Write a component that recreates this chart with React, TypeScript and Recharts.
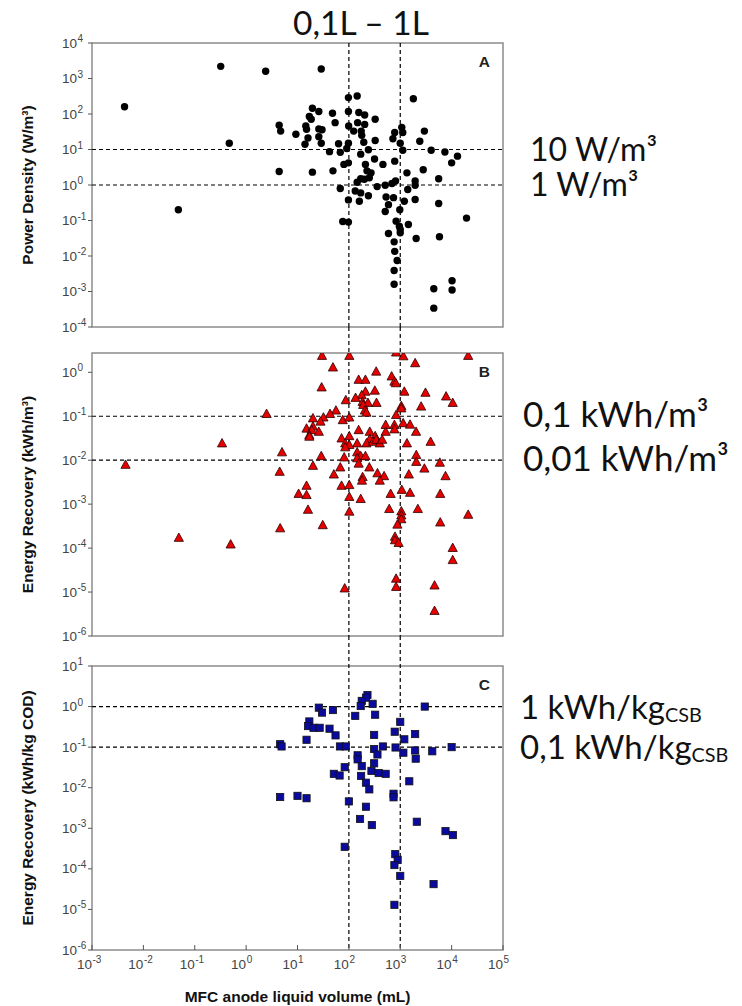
import React from "react";
import { ScatterChart, Scatter, XAxis, YAxis, ReferenceLine, ReferenceArea } from "recharts";

// MFC anode liquid volume (mL), log axis shared by all three panels
const volumeTicks = [1e-3, 1e-2, 1e-1, 1, 10, 100, 1000, 1e4, 1e5];
const rangeLines = [100, 1000]; // 0,1 L and 1 L

// A: power density (W/m3)
const powerTicks = [1e-4, 1e-3, 1e-2, 1e-1, 1, 10, 100, 1000, 1e4];
const powerVolume = [
  0.0043, 0.32, 2.4, 29, 0.47, 1800, 98, 145, 19.5, 26, 48, 98, 156, 203, 325, 54, 148, 99, 203, 17,
  18.5, 14.5, 15, 4.4, 4.7, 9.3, 26, 30, 16, 26, 14, 29, 124, 174, 178, 780, 1120, 1070, 2950, 720,
  2400, 325, 195, 98, 63, 1000, 42, 68, 91, 240, 170, 1120, 4000, 7400, 13000, 10000, 316, 460, 780, 80,
  98, 210, 4.4, 19.5, 49, 225, 270, 250, 200, 145, 170, 355, 510, 690, 810, 68, 133, 170, 240, 98,
  160, 530, 740, 590, 510, 980, 1200, 1400, 1350, 1950, 1950, 2800, 5600, 1950, 5600, 76, 98, 830, 960, 1000,
  1000, 1440, 590, 2040, 5800, 19500, 0.048, 760, 780, 870, 760, 760, 4500, 10200, 10200, 4500,
];
const powerDensity = [
  160, 2200, 1600, 1850, 15, 270, 290, 320, 145, 118, 105, 118, 110, 94, 71, 57, 57, 46, 51, 85,
  71, 46, 37, 48, 33, 27, 38, 36, 21, 23, 14, 15, 33, 33, 25, 30, 30, 42, 33, 20,
  17, 18, 16, 15, 14.5, 15, 8.7, 8.3, 10.7, 9.8, 7.4, 9.5, 9.5, 8.5, 6.5, 4.2, 5.4, 3.8, 4.7, 3.8,
  4.2, 3.8, 2.4, 2.3, 2.5, 2.5, 2.2, 1.6, 1.45, 1.2, 1.5, 0.9, 0.98, 1.1, 1.3, 0.8, 0.68, 0.6, 0.5, 0.38,
  0.35, 0.46, 0.44, 0.28, 0.18, 0.2, 0.35, 0.75, 2.2, 1.3, 0.98, 2.7, 1.5, 0.39, 0.3, 0.094, 0.09, 0.096, 0.069, 0.056,
  0.045, 0.077, 0.043, 0.031, 0.035, 0.117, 0.2, 0.025, 0.0135, 0.0075, 0.0039, 0.0016, 0.0012, 0.002, 0.0011, 0.00034,
];

// B: energy recovery (kWh/m3)
const energyTicks = [1e-6, 1e-5, 1e-4, 1e-3, 1e-2, 1e-1, 1];
const energyVolume = [
  30, 102, 830, 1150, 21000, 1950, 49, 340, 155, 210, 680, 770, 820, 29.5, 210, 320, 1200, 3100, 7800, 10500,
  178, 135, 87, 185, 235, 345, 190, 1050, 1050, 2550, 205, 220, 56, 43, 2.5, 32, 20, 76, 102, 830,
  28, 15, 20, 19, 26, 17, 17, 155, 72, 102, 255, 325, 520, 770, 770, 520, 1140, 1550, 2030, 255,
  220, 295, 340, 145, 85, 102, 85, 400, 445, 1350, 3900, 0.34, 5, 145, 170, 210, 145, 29, 81, 155,
  2050, 2050, 5900, 0.0045, 20, 250, 68, 2950, 4.5, 360, 51, 485, 185, 1470, 7600, 400, 180, 15, 72, 102,
  10.5, 15, 650, 1070, 1550, 6000, 102, 170, 16, 102, 610, 1050, 2200, 1050, 1050, 21000, 880, 6000, 31, 4.6,
  0.049, 0.5, 790, 790, 930, 10500, 10500, 830, 830, 83, 4650, 4650,
];
const energyRecovery = [
  2.35, 2.35, 2.8, 2.3, 2.35, 1.6, 1.28, 1.03, 0.67, 0.67, 0.8, 0.61, 0.56, 0.45, 0.36, 0.38, 0.36, 0.34, 0.28, 0.2,
  0.3, 0.26, 0.23, 0.21, 0.2, 0.2, 0.18, 0.17, 0.15, 0.165, 0.134, 0.12, 0.134, 0.112, 0.112, 0.093, 0.089, 0.081, 0.093, 0.106,
  0.075, 0.052, 0.058, 0.048, 0.044, 0.037, 0.034, 0.048, 0.031, 0.035, 0.044, 0.035, 0.063, 0.063, 0.05, 0.044, 0.069, 0.064, 0.044, 0.03,
  0.024, 0.026, 0.029, 0.024, 0.024, 0.022, 0.0195, 0.024, 0.029, 0.024, 0.026, 0.024, 0.015, 0.015, 0.0123, 0.0123, 0.011, 0.0123, 0.0115, 0.0083,
  0.013, 0.0091, 0.0087, 0.0078, 0.0074, 0.0068, 0.0068, 0.0064, 0.0054, 0.005, 0.0047, 0.0043, 0.0041, 0.0047, 0.0043, 0.0034, 0.0034, 0.0026, 0.0026, 0.0027,
  0.0017, 0.0016, 0.0017, 0.0021, 0.0018, 0.0017, 0.00145, 0.0013, 0.00074, 0.00067, 0.00077, 0.00068, 0.00077, 0.00055, 0.00045, 0.00057, 0.00034, 0.00038, 0.00033, 0.00028,
  0.00017, 0.00012, 0.00018, 0.00015, 0.00013, 0.0001, 5.3e-5, 2e-5, 1.3e-5, 1.2e-5, 1.4e-5, 3.7e-6,
];

// C: energy recovery (kWh/kg COD)
const codTicks = [1e-6, 1e-5, 1e-4, 1e-3, 1e-2, 1e-1, 1, 10];
const codVolume = [
  230, 215, 178, 170, 290, 26, 49, 30, 3000, 133, 325, 17, 16, 20.5, 27, 42, 1000, 780, 55, 310,
  1950, 1200, 15, 4.6, 4.9, 67, 87, 460, 810, 10000, 310, 1950, 4200, 1150, 360, 148, 148, 2000, 178, 83,
  310, 275, 380, 520, 51, 66, 173, 215, 250, 1500, 740, 740, 4.6, 10, 15, 100, 215, 165, 280, 2100,
  7600, 10600, 83, 800, 890, 770, 1000, 4450, 770,
];
const codRecovery = [
  1.93, 1.66, 1.38, 1.03, 1.17, 0.94, 0.82, 0.71, 1.0, 0.59, 0.63, 0.43, 0.33, 0.3, 0.3, 0.285, 0.42, 0.24, 0.195, 0.2,
  0.21, 0.156, 0.152, 0.118, 0.104, 0.104, 0.104, 0.104, 0.098, 0.1, 0.09, 0.083, 0.079, 0.073, 0.066, 0.063, 0.05, 0.052, 0.034, 0.032,
  0.04, 0.026, 0.023, 0.022, 0.022, 0.02, 0.0195, 0.0133, 0.0091, 0.0144, 0.0071, 0.0058, 0.0059, 0.0063, 0.0055, 0.0046, 0.0034, 0.0017, 0.0012, 0.00145,
  0.00085, 0.00068, 0.00035, 0.00023, 0.000167, 0.000124, 6.7e-5, 4.2e-5, 1.3e-5,
];

const SANS = "'Liberation Sans', Arial, sans-serif";
const NOTE_FONT = "Lato, 'Open Sans', sans-serif";
const FRAME = "#8c8c8c";

const exp = (v: number) => Math.round(Math.log10(v));

const YTick = ({ x, y, payload }: any) => (
  <g>
    <text x={x - 9} y={y} dy={4.5} textAnchor="end" fontSize={13.5} fill="#444" fontFamily={SANS}>10</text>
    <text x={x - 8.5} y={y} dy={-1} textAnchor="start" fontSize={10} fill="#444" fontFamily={SANS}>{exp(payload.value)}</text>
  </g>
);

const XTick = ({ x, y, payload }: any) => (
  <g>
    <text x={x} y={y} dy={24} textAnchor="end" fontSize={13.5} fill="#444" fontFamily={SANS}>10</text>
    <text x={x + 0.5} y={y} dy={18} textAnchor="start" fontSize={10} fill="#444" fontFamily={SANS}>{exp(payload.value)}</text>
  </g>
);

const yLabel = (text: string) => (props: any) => {
  const vb = props.viewBox || { x: 0, y: 0, width: 0, height: 0 };
  const cx = vb.x + 27;
  const cy = vb.y + vb.height / 2;
  return (
    <text x={cx} y={cy} transform={`rotate(-90 ${cx} ${cy})`} textAnchor="middle" dominantBaseline="central"
      fontFamily={SANS} fontWeight={700} fontSize={15.5} fill="#111">
      {text}
    </text>
  );
};

const guideLabel = (text: string, sub: string | undefined, offset: number, dy: number, size: number) => (props: any) => {
  const vb = props.viewBox || { x: 0, y: 0, width: 0, height: 0 };
  return (
    <text x={vb.x + vb.width + offset} y={vb.y + dy} fontFamily={NOTE_FONT} fontSize={size} fill="#111">
      {text}
      {sub ? <tspan fontSize={size * 0.6} dy={3}>{sub}</tspan> : null}
    </text>
  );
};

// vertical range lines continue through the gap above the panel
const rangeLine = (gap: number) => (p: any) => (
  <line x1={p.x1} x2={p.x2} y1={Math.min(p.y1, p.y2) - gap} y2={Math.max(p.y1, p.y2)}
    stroke="#000" strokeWidth={1.2} strokeDasharray="4 3" />
);

const Dot = (p: any) => <circle cx={p.cx} cy={p.cy} r={3.7} fill="#000" />;
const Tri = (p: any) => (
  <polygon points={`${p.cx},${p.cy - 5} ${p.cx - 4.6},${p.cy + 3.4} ${p.cx + 4.6},${p.cy + 3.4}`}
    fill="#e60000" stroke="#2a0000" strokeWidth={0.8} />
);
const Sq = (p: any) => (
  <rect x={p.cx - 3.6} y={p.cy - 3.6} width={7.2} height={7.2} fill="#0a0a9e" stroke="#111" strokeWidth={0.8} />
);

type Guide = { value: number; text: string; sub?: string };

type PanelProps = {
  top: number;
  height: number;
  marginTop: number;
  axisHeight: number;
  gap: number;
  volumes: number[];
  values: number[];
  yTicks: number[];
  yDomain: [number, number];
  yTitle: string;
  letter: string;
  guides: Guide[];
  noteOffset: number;
  noteDy: number;
  noteSize: number;
  shape: (p: any) => React.ReactElement;
  bottom?: boolean;
};

const Panel: React.FC<PanelProps> = (props) => {
  const data = props.volumes.map((v, i) => ({ x: v, y: props.values[i] }));
  return (
    <div style={{ position: "absolute", left: 0, top: props.top }}>
      <ScatterChart width={742} height={props.height}
        margin={{ top: props.marginTop, right: 239, left: 0, bottom: 0 }}>
        <XAxis dataKey="x" type="number" scale="log" domain={[1e-3, 1e5]} allowDataOverflow
          ticks={volumeTicks} interval={0} height={props.axisHeight} axisLine={false}
          tickLine={{ stroke: "#555" }} tickSize={-5} tickMargin={0}
          tick={props.bottom ? <XTick /> : false}
          label={props.bottom ? {
            value: "MFC anode liquid volume (mL)", position: "insideBottom", offset: 4,
            style: { fontFamily: SANS, fontWeight: 700, fontSize: 15.5, fill: "#111" },
          } : undefined} />
        <YAxis dataKey="y" type="number" scale="log" domain={props.yDomain} allowDataOverflow
          ticks={props.yTicks} interval={0} width={92} axisLine={false}
          tickLine={{ stroke: "#555" }} tickSize={4} tickMargin={2} tick={<YTick />}
          label={yLabel(props.yTitle)} />
        <ReferenceArea x1={1e-3} x2={1e5} y1={props.yDomain[0]} y2={props.yDomain[1]} ifOverflow="visible"
          fill="none" stroke={FRAME} strokeWidth={1.5}
          label={{ value: props.letter, position: "insideTopRight", offset: 13,
            style: { fontFamily: SANS, fontWeight: 700, fontSize: 15.5, fill: "#222" } }} />
        {props.guides.map((g) => (
          <ReferenceLine key={g.text} y={g.value} stroke="#000" strokeWidth={1.2} strokeDasharray="4 3"
            label={guideLabel(g.text, g.sub, props.noteOffset, props.noteDy, props.noteSize)} />
        ))}
        {rangeLines.map((v) => (
          <ReferenceLine key={v} x={v} shape={rangeLine(props.gap)} />
        ))}
        <Scatter data={data} shape={props.shape} isAnimationActive={false} />
      </ScatterChart>
    </div>
  );
};

export default function App() {
  return (
    <div style={{ position: "absolute", left: 0, top: 0, width: 742, height: 1006, background: "#fff" }}>
      <Panel top={0} height={345} marginTop={43} axisHeight={18} gap={0}
        volumes={powerVolume} values={powerDensity} yTicks={powerTicks} yDomain={[1e-4, 1e4]}
        yTitle="Power Density (W/m³)" letter="A" shape={Dot} noteOffset={27} noteDy={11} noteSize={32}
        guides={[{ value: 10, text: "10 W/m³" }, { value: 1, text: "1 W/m³" }]} />
      <Panel top={320} height={330} marginTop={33} axisHeight={14} gap={26}
        volumes={energyVolume} values={energyRecovery} yTicks={energyTicks} yDomain={[1e-6, 2.75]}
        yTitle="Energy Recovery (kWh/m³)" letter="B" shape={Tri} noteOffset={20} noteDy={11} noteSize={35}
        guides={[{ value: 0.1, text: "0,1 kWh/m³" }, { value: 0.01, text: "0,01 kWh/m³" }]} />
      <Panel top={630} height={376} marginTop={36} axisHeight={56} gap={30} bottom
        volumes={codVolume} values={codRecovery} yTicks={codTicks} yDomain={[1e-6, 10]}
        yTitle="Energy Recovery (kWh/kg COD)" letter="C" shape={Sq} noteOffset={17} noteDy={12} noteSize={33}
        guides={[{ value: 1, text: "1 kWh/kg", sub: "CSB" }, { value: 0.1, text: "0,1 kWh/kg", sub: "CSB" }]} />
      <svg width={742} height={50} style={{ position: "absolute", left: 0, top: 0 }}>
        <text x={361} y={35} textAnchor="middle" fontFamily={NOTE_FONT} fontSize={33.5} fill="#111">0,1L – 1L</text>
      </svg>
    </div>
  );
}
